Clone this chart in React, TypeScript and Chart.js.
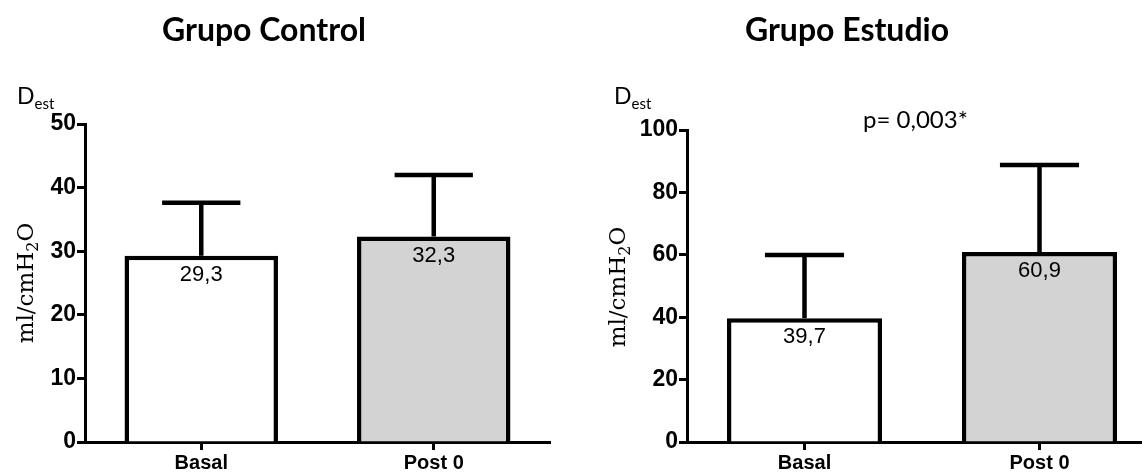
import React, { useEffect, useRef } from 'react';
import { Chart, registerables } from 'chart.js';

Chart.register(...registerables);

const categories = ['Basal', 'Post 0'];
const controlMeans = [29.3, 32.3];
const controlSD = [8.3, 9.7];
const studyMeans = [39.7, 60.9];
const studySD = [20.2, 27.9];
const barColors = ['#ffffff', '#d3d3d3'];
const controlAxis = { max: 50, step: 10 };
const studyAxis = { max: 100, step: 20 };
const controlTitle = 'Grupo Control';
const studyTitle = 'Grupo Estudio';
const studyPText = 'p= 0,003*';

const fmt = (v: number) => v.toFixed(1).replace('.', ',');

const extrasPlugin = {
  id: 'extras',
  afterDatasetsDraw(chart: any, _args: any, opts: any) {
    const ctx = chart.ctx;
    const meta = chart.getDatasetMeta(0);
    const ys = chart.scales.y;
    ctx.save();
    meta.data.forEach((bar: any, i: number) => {
      const mean = opts.means[i];
      const sd = opts.sds[i];
      const yTop = ys.getPixelForValue(mean + sd);
      const x = bar.x;
      const capHalf = bar.width * 0.255;
      ctx.strokeStyle = '#000';
      ctx.lineWidth = 4.5;
      ctx.lineCap = 'butt';
      ctx.beginPath();
      ctx.moveTo(x, bar.y);
      ctx.lineTo(x, yTop);
      ctx.moveTo(x - capHalf, yTop);
      ctx.lineTo(x + capHalf, yTop);
      ctx.stroke();
      ctx.fillStyle = '#000';
      ctx.font = '22px "Liberation Sans", Arial, sans-serif';
      ctx.textAlign = 'center';
      ctx.textBaseline = 'middle';
      ctx.fillText(fmt(mean), x, bar.y + 19);
    });
    ctx.restore();
  },
  afterDraw(chart: any, _args: any, opts: any) {
    const ctx = chart.ctx;
    ctx.save();
    ctx.fillStyle = '#000';
    ctx.font = 'bold 32px Lato, "Open Sans", sans-serif';
    ctx.textAlign = 'center';
    ctx.textBaseline = 'alphabetic';
    ctx.fillText(opts.title, opts.titleX, 41);
    ctx.textAlign = 'left';
    ctx.font = '23px Lato, "Open Sans", sans-serif';
    ctx.fillText('D', opts.dX, 104);
    const dw = ctx.measureText('D').width;
    ctx.font = '15px Lato, "Open Sans", sans-serif';
    ctx.fillText('est', opts.dX + dw, 109);
    if (opts.pText) {
      ctx.font = '24px Lato, "Open Sans", sans-serif';
      ctx.fillText(opts.pText, opts.pX, 128);
    }
    ctx.translate(opts.yLabelX, opts.yLabelY);
    ctx.rotate(-Math.PI / 2);
    const main = '23px "DejaVu Serif", serif';
    const sub = '16px "DejaVu Serif", serif';
    ctx.font = main;
    const w1 = ctx.measureText('ml/cmH').width;
    const w3 = ctx.measureText('O').width;
    ctx.font = sub;
    const w2 = ctx.measureText('2').width;
    let x = -(w1 + w2 + w3) / 2;
    ctx.font = main;
    ctx.fillText('ml/cmH', x, 0);
    x += w1;
    ctx.font = sub;
    ctx.fillText('2', x, 5);
    x += w2;
    ctx.font = main;
    ctx.fillText('O', x, 0);
    ctx.restore();
  },
};

type PanelProps = {
  width: number;
  left: number;
  means: number[];
  sds: number[];
  axis: { max: number; step: number };
  yWidth: number;
  padTop: number;
  padRight: number;
  title: string;
  titleX: number;
  dX: number;
  pText?: string;
  pX?: number;
  yLabelX: number;
  yLabelY: number;
};

function Panel(p: PanelProps) {
  const ref = useRef<HTMLCanvasElement>(null);
  useEffect(() => {
    if (!ref.current) return;
    const chart = new Chart(ref.current, {
      type: 'bar',
      data: {
        labels: categories,
        datasets: [
          {
            data: p.means,
            backgroundColor: barColors,
            borderColor: '#000',
            borderWidth: 4.5,
            barPercentage: 0.66,
            categoryPercentage: 1.0,
          },
        ],
      },
      plugins: [extrasPlugin],
      options: {
        responsive: false,
        animation: false,
        devicePixelRatio: 1,
        layout: { padding: { top: p.padTop, right: p.padRight, bottom: 0, left: 0 } },
        plugins: {
          legend: { display: false },
          tooltip: { enabled: false },
          extras: {
            means: p.means,
            sds: p.sds,
            title: p.title,
            titleX: p.titleX,
            dX: p.dX,
            pText: p.pText,
            pX: p.pX,
            yLabelX: p.yLabelX,
            yLabelY: p.yLabelY,
          },
        } as any,
        scales: {
          x: {
            offset: true,
            grid: {
              display: true,
              offset: false,
              drawOnChartArea: false,
              drawTicks: true,
              tickLength: 8,
              tickWidth: 3,
              tickColor: '#000',
            },
            border: { display: true, width: 3, color: '#000' },
            ticks: {
              color: '#000',
              padding: 1,
              font: { family: '"Liberation Sans", Arial, sans-serif', size: 20, weight: 'bold' },
            },
            afterFit: (s: any) => {
              s.height = 30;
            },
          },
          y: {
            min: 0,
            max: p.axis.max,
            grid: {
              display: true,
              drawOnChartArea: false,
              drawTicks: true,
              tickLength: 8,
              tickWidth: 3,
              tickColor: '#000',
            },
            border: { display: true, width: 3, color: '#000' },
            ticks: {
              stepSize: p.axis.step,
              color: '#000',
              padding: 1,
              font: { family: '"Liberation Sans", Arial, sans-serif', size: 23, weight: 'bold' },
            },
            afterFit: (s: any) => {
              s.width = p.yWidth;
            },
          },
        },
      } as any,
    });
    return () => chart.destroy();
  }, []);
  return (
    <canvas
      ref={ref}
      width={p.width}
      height={472}
      style={{ position: 'absolute', left: p.left, top: 0, width: p.width, height: 472 }}
    />
  );
}

export default function App() {
  return (
    <div style={{ position: 'relative', width: 1142, height: 472, overflow: 'hidden', background: '#fff' }}>
      <style>{`body{margin:0;overflow:hidden;background:#fff}`}</style>
      <Panel
        width={571}
        left={0}
        means={controlMeans}
        sds={controlSD}
        axis={controlAxis}
        yWidth={85}
        padTop={124}
        padRight={21}
        title={controlTitle}
        titleX={264}
        dX={17}
        yLabelX={33}
        yLabelY={283}
      />
      <Panel
        width={600}
        left={571}
        means={studyMeans}
        sds={studySD}
        axis={studyAxis}
        yWidth={116}
        padTop={130}
        padRight={14}
        title={studyTitle}
        titleX={276}
        dX={43}
        pText={studyPText}
        pX={292}
        yLabelX={54}
        yLabelY={287}
      />
    </div>
  );
}
